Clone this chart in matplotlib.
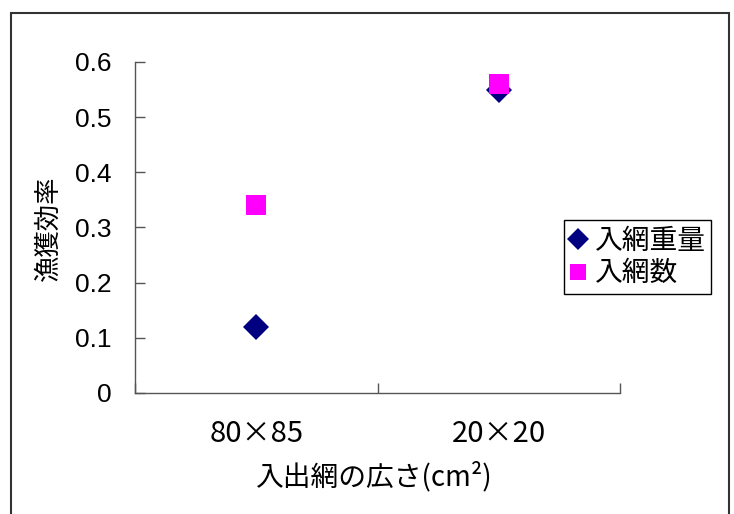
import matplotlib
matplotlib.use("Agg")
import matplotlib.pyplot as plt
from matplotlib.patches import Rectangle

plt.rcParams["font.family"] = ["Liberation Sans", "Noto Sans CJK JP", "DejaVu Sans"]

# データ
categories = ["80×85", "20×20"]
series_names = ["入網重量", "入網数"]
weight_values = [0.12, 0.55]
count_values = [0.34, 0.56]
y_ticks = [0, 0.1, 0.2, 0.3, 0.4, 0.5, 0.6]
y_tick_labels = ["0", "0.1", "0.2", "0.3", "0.4", "0.5", "0.6"]

axis_color = "#555555"

fig = plt.figure(figsize=(7.34, 5.14), dpi=100)
ax = fig.add_axes([135 / 734, 1 - 393 / 514, 485 / 734, 331 / 514])

x = [i + 0.5 for i in range(len(categories))]
ax.plot(x, weight_values, "D", color="#000080", ms=13.5, mew=0,
        label=series_names[0], clip_on=False)
ax.plot(x, count_values, "s", color="#ff00ff", ms=15, mew=0,
        label=series_names[1], clip_on=False)

ax.set_xlim(0, len(categories))
ax.set_ylim(0, 0.6)

# 軸と目盛り
ax.set_xticks(range(len(categories) + 1))
ax.set_xticklabels([])
ax.set_xticks(x, minor=True)
ax.set_xticklabels(categories, minor=True, fontsize=21, family=["Noto Sans CJK JP"])
ax.tick_params(axis="x", which="major", direction="in", length=7, width=1, color=axis_color)
ax.tick_params(axis="x", which="minor", length=0, pad=19)
ax.set_yticks(y_ticks)
ax.set_yticklabels(y_tick_labels, fontsize=19)
ax.tick_params(axis="y", direction="in", length=7, width=1, color=axis_color, pad=17)

for side in ["top", "right"]:
    ax.spines[side].set_visible(False)
for side in ["left", "bottom"]:
    ax.spines[side].set_color(axis_color)
    ax.spines[side].set_linewidth(1)

fig.text(48 / 734, 1 - 228 / 514, "漁獲効率", rotation=90, ha="center", va="center",
         fontsize=19, family=["Noto Sans CJK JP"])
fig.text(374 / 734, 1 - 477 / 514, "入出網の広さ(cm²)", ha="center", va="center",
         fontsize=20, family=["Noto Sans CJK JP"])

leg = ax.legend(loc="upper left", bbox_to_anchor=(564 / 734, 1 - 220 / 514),
                bbox_transform=fig.transFigure, borderaxespad=0, markerscale=0.8,
                prop={"family": "Noto Sans CJK JP", "size": 20}, fancybox=False,
                framealpha=1, edgecolor="black", handlelength=0.6, handletextpad=0.3,
                labelspacing=0.1, borderpad=0.2)
leg.get_frame().set_linewidth(1)

# 外枠
fig.patches.append(Rectangle((11 / 734, -0.05), 718 / 734, 1.05 - 13 / 514,
                             transform=fig.transFigure, fill=False,
                             edgecolor="#333333", linewidth=1.5))

fig.savefig("out.png", dpi=100)
